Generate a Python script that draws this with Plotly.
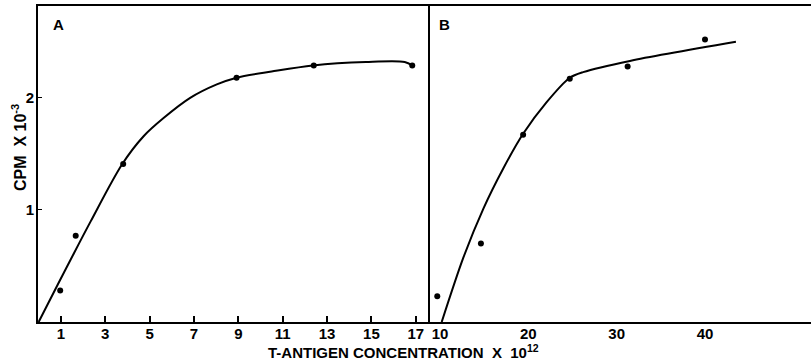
import plotly.graph_objects as go

# Panel A data points
a_x = [0.97, 1.67, 3.81, 8.92, 12.40, 16.84]
a_y = [0.28, 0.77, 1.41, 2.18, 2.29, 2.29]
# Panel A fitted curve
a_cx = [0.0, 0.85, 1.45, 2.35, 3.77, 4.74, 5.63, 6.83, 8.03, 8.92, 10.5, 12.36, 14.75, 16.5, 16.84]
a_cy = [0.0, 0.33, 0.56, 0.90, 1.41, 1.66, 1.82, 2.00, 2.12, 2.18, 2.235, 2.29, 2.32, 2.32, 2.29]

# Panel B data points
b_x = [9.69, 14.63, 19.41, 24.69, 31.24, 40.0]
b_y = [0.23, 0.70, 1.67, 2.17, 2.28, 2.52]
# Panel B fitted curve
b_cx = [10.19, 12.64, 14.9, 17.16, 19.41, 22.05, 24.69, 26.2, 31.5, 43.5]
b_cy = [0.0, 0.574, 1.01, 1.37, 1.68, 1.96, 2.18, 2.23, 2.33, 2.50]

a_ticks = [1, 3, 5, 7, 9, 11, 13, 15, 17]
b_ticks = [10, 20, 30, 40]
y_ticks = [1, 2]

W, H = 811, 362
FONT = "Liberation Sans"
tickfont = dict(family=FONT, size=15, color="black")


def bold(vals):
    return [f"<b>{v}</b>" for v in vals]


fig = go.Figure()
fig.add_trace(go.Scatter(x=a_cx, y=a_cy, mode="lines", line=dict(color="black", width=2, shape="spline", smoothing=0.9), xaxis="x", yaxis="y"))
fig.add_trace(go.Scatter(x=a_x, y=a_y, mode="markers", marker=dict(color="black", size=6), xaxis="x", yaxis="y"))
fig.add_trace(go.Scatter(x=b_cx, y=b_cy, mode="lines", line=dict(color="black", width=2, shape="spline", smoothing=0.8), xaxis="x2", yaxis="y2"))
fig.add_trace(go.Scatter(x=b_x, y=b_y, mode="markers", marker=dict(color="black", size=6), xaxis="x2", yaxis="y2"))

ydom = [1 - 322 / H, 1 - 6 / H]
fig.update_layout(
    width=W, height=H, margin=dict(l=0, r=0, t=0, b=0),
    paper_bgcolor="white", plot_bgcolor="white", showlegend=False,
    xaxis=dict(domain=[38 / W, 428 / W], range=[-0.03, 17.55], tickvals=a_ticks, ticktext=bold(a_ticks),
               ticks="inside", ticklen=6, tickwidth=1.5, tickcolor="black", showline=True, linecolor="black",
               linewidth=2, mirror=True, showgrid=False, zeroline=False, tickfont=tickfont, anchor="y",
               automargin=False, ticklabelstandoff=-3),
    yaxis=dict(domain=ydom, range=[0, 2.82], tickvals=y_ticks, ticktext=bold(y_ticks), ticks="inside",
               ticklen=4, tickcolor="black", showline=True, linecolor="black", linewidth=2, mirror=True,
               showgrid=False, zeroline=False, tickfont=tickfont, anchor="x", automargin=False,
               ticklabelstandoff=-1),
    xaxis2=dict(domain=[428 / W, 1], range=[8.64, 52.0], tickvals=b_ticks, ticktext=bold(b_ticks), ticks="",
                showline=True, linecolor="black", linewidth=2, mirror=True, showgrid=False, zeroline=False,
                tickfont=tickfont, anchor="y2", automargin=False, ticklabelstandoff=-3),
    yaxis2=dict(domain=ydom, range=[0, 2.82], showticklabels=False, ticks="", showline=False, showgrid=False,
                zeroline=False, anchor="x2", automargin=False),
    annotations=[
        dict(text="<b>A</b>", x=58 / W, y=1 - 25 / H, xref="paper", yref="paper", showarrow=False,
             xanchor="center", yanchor="middle", font=dict(family=FONT, size=15, color="black")),
        dict(text="<b>B</b>", x=444 / W, y=1 - 25 / H, xref="paper", yref="paper", showarrow=False,
             xanchor="center", yanchor="middle", font=dict(family=FONT, size=15, color="black")),
        dict(text="<b>T-ANTIGEN CONCENTRATION  X  10<sup>12</sup></b>", x=403 / W, y=1 - 351 / H,
             xref="paper", yref="paper", showarrow=False, xanchor="center", yanchor="middle",
             font=dict(family=FONT, size=15, color="black")),
        dict(text="<b>CPM  X 10<sup>-3</sup></b>", x=19 / W, y=1 - 148 / H, xref="paper", yref="paper",
             showarrow=False, textangle=-90, xanchor="center", yanchor="middle",
             font=dict(family=FONT, size=16, color="black")),
    ],
)

fig.write_html("out.html", config={"displayModeBar": False},
               post_script="document.body.style.margin='0';document.body.style.overflow='hidden';")
